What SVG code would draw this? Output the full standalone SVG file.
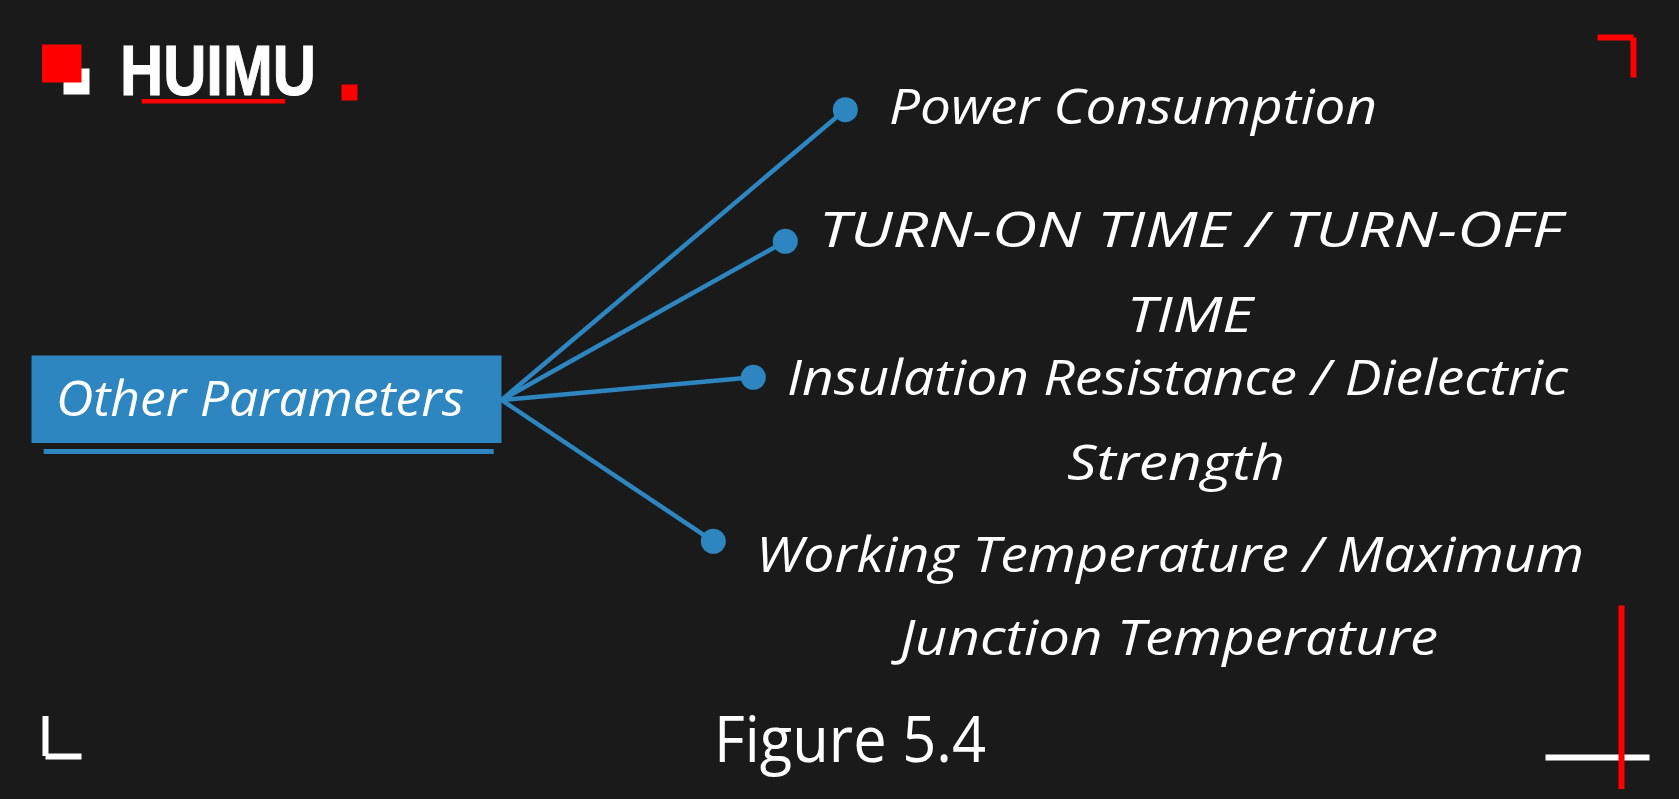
<svg xmlns="http://www.w3.org/2000/svg" width="1679" height="799" viewBox="0 0 1679 799">
<style>
.hand{font-family:"Open Sans","Noto Sans",sans-serif;font-style:italic;font-size:50px;fill:#fff}
.link{stroke:#2e86c1;stroke-width:4.5;fill:none}
.dot{fill:#2e86c1}
.red{fill:#f00}
.white{fill:#fff}
</style>
<rect width="1679" height="799" fill="#1a1a1a"/>
<g id="logo">
<rect class="white" x="63.5" y="68.5" width="26" height="26"/>
<rect class="red" x="42" y="44.5" width="39.5" height="38"/>
<text x="120" y="95" font-family="'Liberation Sans',Arial,sans-serif" font-weight="700" font-size="70" fill="#fff" stroke="#fff" stroke-width="1" textLength="196" lengthAdjust="spacingAndGlyphs">HUIMU</text>
<rect class="red" x="141.7" y="99" width="143.5" height="4.5"/>
<rect class="red" x="341.5" y="84.5" width="16" height="16"/>
</g>
<g id="frame-marks">
<rect class="red" x="1597.5" y="34.5" width="36" height="6"/>
<rect class="red" x="1630.5" y="37.5" width="6" height="40"/>
<rect class="white" x="42.5" y="716" width="6" height="40"/>
<rect class="white" x="45.5" y="753.5" width="36" height="6"/>
<rect class="white" x="1545.5" y="754.5" width="104" height="6"/>
<rect class="red" x="1618.5" y="605.5" width="6" height="183.5"/>
</g>
<g id="connectors">
<line class="link" x1="501.5" y1="400" x2="845.3" y2="109.7"/>
<line class="link" x1="501.5" y1="400" x2="785.3" y2="241.3"/>
<line class="link" x1="501.5" y1="400" x2="753.3" y2="377.3"/>
<line class="link" x1="501.5" y1="400" x2="713.3" y2="541.3"/>
</g>
<g id="node-other-parameters">
<rect x="31.5" y="355.5" width="470" height="87.5" fill="#2e86c1"/>
<rect x="43.7" y="449" width="450" height="5" fill="#2e86c1"/>
<text class="hand" x="56" y="416" textLength="408" lengthAdjust="spacingAndGlyphs">Other Parameters</text>
</g>
<g id="node-power-consumption">
<circle class="dot" cx="845.3" cy="109.7" r="12.5"/>
<text class="hand" x="889" y="124" textLength="488" lengthAdjust="spacingAndGlyphs">Power Consumption</text>
</g>
<g id="node-turn-on-off-time">
<circle class="dot" cx="785.3" cy="241.3" r="12.5"/>
<text class="hand" x="819" y="247" textLength="743" lengthAdjust="spacingAndGlyphs">TURN-ON TIME / TURN-OFF</text>
<text class="hand" x="1127" y="332" textLength="126" lengthAdjust="spacingAndGlyphs">TIME</text>
</g>
<g id="node-insulation">
<circle class="dot" cx="753.3" cy="377.3" r="12.5"/>
<text class="hand" x="787" y="395" textLength="781" lengthAdjust="spacingAndGlyphs">Insulation Resistance / Dielectric</text>
<text class="hand" x="1067" y="480" textLength="218" lengthAdjust="spacingAndGlyphs">Strength</text>
</g>
<g id="node-working-temperature">
<circle class="dot" cx="713.3" cy="541.3" r="12.5"/>
<text class="hand" x="756" y="572" textLength="828" lengthAdjust="spacingAndGlyphs">Working Temperature / Maximum</text>
<text class="hand" x="900" y="655" textLength="538" lengthAdjust="spacingAndGlyphs">Junction Temperature</text>
</g>
<g id="caption">
<text x="714" y="762" font-family="'Open Sans','Noto Sans',sans-serif" font-size="64" fill="#fff" textLength="272" lengthAdjust="spacingAndGlyphs">Figure 5.4</text>
</g>
</svg>
